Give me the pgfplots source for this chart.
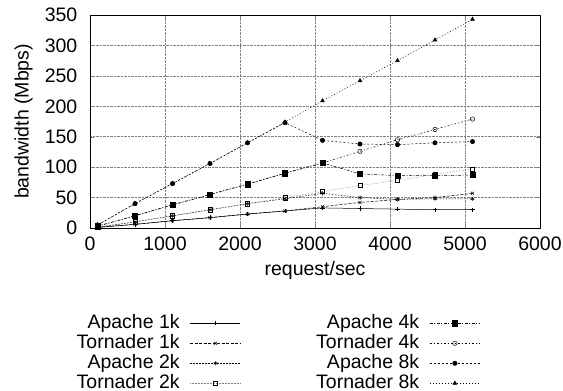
\documentclass[border=0pt]{standalone}
\usepackage{pgfplots}
\pgfplotsset{compat=1.18}
\usepackage{fontspec}
\setmainfont{Liberation Sans}
\begin{document}
\fontsize{19.5}{22}\selectfont
\begin{tikzpicture}
\path[use as bounding box] (-90pt,-163pt) rectangle (473pt,228pt);
\begin{axis}[
  at={(0pt,0pt)}, anchor=south west,
  scale only axis, width=450pt, height=213pt,
  xmin=0, xmax=6000, ymin=0, ymax=350,
  xtick={0,1000,...,6000}, ytick={0,50,...,350},
  /pgf/number format/assume math mode=true,
  scaled x ticks=false,
  xticklabel style={/pgf/number format/1000 sep={}, yshift=-2pt},
  yticklabel style={xshift=-6pt},
  tick label style={font=\fontsize{19.5}{22}\selectfont},
  label style={font=\fontsize{19.5}{22}\selectfont},
  xlabel={request/sec}, ylabel={bandwidth (Mbps)},
  xlabel style={yshift=2pt},
  ylabel style={yshift=-1pt},
  grid=major, major grid style={gray, densely dotted, line width=0.5pt},
  tick align=inside, major tick length=4pt,
  axis line style={line width=0.8pt},
  every axis plot/.append style={line width=0.5pt, black, mark size=2.2pt},
  legend columns=2,
  legend plot pos=right,
  legend style={draw=none, fill=none, at={(axis description cs:-0.04,-0.39)}, anchor=north west,
    font=\fontsize{19.5}{22}\selectfont,
    nodes={text height=13.5pt, text depth=3.5pt, inner sep=1.5pt},
    cells={anchor=east},
    /tikz/every odd column/.append style={column sep=9pt},
    /tikz/every even column/.append style={column sep=74pt}},
  legend image code/.code={\draw[mark repeat=2,mark phase=2,#1] plot coordinates {(0pt,0pt)(25pt,0pt)(50pt,0pt)};},
]
% Apache 1k
\addplot[solid, mark=+] coordinates {(100,1)(600,6)(1100,12)(1600,17)(2100,23)(2600,28)(3100,33)(3600,32)(4100,31)(4600,30)(5100,30)};
\addlegendentry{Apache 1k}
% Apache 4k
\addplot[dash pattern=on 3pt off 1.5pt on 1pt off 1.5pt, mark=square*, mark size=2.6pt, mark options={solid}] coordinates {(100,3)(600,20)(1100,38)(1600,55)(2100,72)(2600,90)(3100,107)(3600,89)(4100,86)(4600,86)(5100,87)};
\addlegendentry{Apache 4k}
% Tornader 1k
\addplot[dash pattern=on 3pt off 1.5pt, mark=x, mark options={solid}] coordinates {(100,1)(600,6)(1100,12)(1600,17)(2100,23)(2600,28)(3100,35)(3600,42)(4100,47)(4600,50)(5100,57)};
\addlegendentry{Tornader 1k}
% Tornader 4k
\addplot[dash pattern=on 2pt off 2pt on 1pt off 2pt, mark=o, mark options={solid}] coordinates {(100,3)(600,20)(1100,38)(1600,55)(2100,72)(2600,90)(3100,107)(3600,126)(4100,145)(4600,162)(5100,179)};
\addlegendentry{Tornader 4k}
% Apache 2k
\addplot[dash pattern=on 1.5pt off 1.5pt, mark=asterisk, mark options={solid}] coordinates {(100,1)(600,10)(1100,20)(1600,30)(2100,40)(2600,48)(3100,57)(3600,50)(4100,47)(4600,48)(5100,48)};
\addlegendentry{Apache 2k}
% Apache 8k
\addplot[dash pattern=on 2pt off 2pt, mark=*, mark options={solid}] coordinates {(100,5)(600,40)(1100,73)(1600,106)(2100,140)(2600,173)(3100,144)(3600,138)(4100,137)(4600,140)(5100,142)};
\addlegendentry{Apache 8k}
% Tornader 2k
\addplot[gray, densely dotted, mark=square, mark options={solid,black}] coordinates {(100,2)(600,10)(1100,20)(1600,30)(2100,40)(2600,50)(3100,60)(3600,70)(4100,78)(4600,88)(5100,97)};
\addlegendentry{Tornader 2k}
% Tornader 8k
\addplot[dash pattern=on 1pt off 2pt, mark=triangle*, mark options={solid}] coordinates {(100,5)(600,40)(1100,73)(1600,106)(2100,140)(2600,174)(3100,209)(3600,242)(4100,275)(4600,309)(5100,343)};
\addlegendentry{Tornader 8k}
\end{axis}
\end{tikzpicture}
\end{document}
